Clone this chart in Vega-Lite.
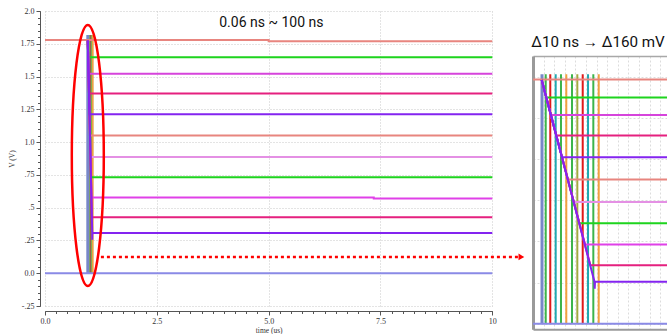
{
  "$schema": "https://vega.github.io/schema/vega-lite/v6.json",
  "background": "white",
  "padding": {"left": 8, "top": 7, "right": 0, "bottom": 0},
  "bounds": "flush",
  "spacing": 40,
  "resolve": {"scale": {"x": "independent", "y": "independent"}},
  "config": {
    "view": {"stroke": null},
    "axis": {
      "labelFont": "Liberation Serif",
      "titleFont": "Liberation Serif",
      "labelFontSize": 8,
      "titleFontSize": 7.5,
      "labelColor": "#333",
      "titleColor": "#333",
      "titleFontWeight": "normal",
      "domainColor": "#555",
      "tickColor": "#555",
      "gridColor": "#c8c8c8",
      "gridDash": [1, 2]
    }
  },
  "datasets": {
    "lines": [
      {"k": "top", "i": 0, "t": 0, "v": 1.778},
      {"k": "top", "i": 1, "t": 5.0, "v": 1.778},
      {"k": "top", "i": 2, "t": 5.0, "v": 1.770},
      {"k": "top", "i": 3, "t": 10, "v": 1.770},
      {"k": "base", "i": 0, "t": 0, "v": 0},
      {"k": "base", "i": 1, "t": 10, "v": 0},
      {"k": "h1", "i": 0, "t": 0.9564, "v": 1.775},
      {"k": "h1", "i": 1, "t": 0.9651, "v": 1.648},
      {"k": "h1", "i": 2, "t": 10, "v": 1.648},
      {"k": "h2", "i": 0, "t": 0.9564, "v": 1.775},
      {"k": "h2", "i": 1, "t": 0.9737, "v": 1.521},
      {"k": "h2", "i": 2, "t": 10, "v": 1.521},
      {"k": "h3", "i": 0, "t": 0.9564, "v": 1.775},
      {"k": "h3", "i": 1, "t": 0.9839, "v": 1.371},
      {"k": "h3", "i": 2, "t": 10, "v": 1.371},
      {"k": "h5", "i": 0, "t": 0.9564, "v": 1.775},
      {"k": "h5", "i": 1, "t": 1.0058, "v": 1.050},
      {"k": "h5", "i": 2, "t": 10, "v": 1.050},
      {"k": "h6", "i": 0, "t": 0.9564, "v": 1.775},
      {"k": "h6", "i": 1, "t": 1.0169, "v": 0.887},
      {"k": "h6", "i": 2, "t": 10, "v": 0.887},
      {"k": "h7", "i": 0, "t": 0.9564, "v": 1.775},
      {"k": "h7", "i": 1, "t": 1.0275, "v": 0.732},
      {"k": "h7", "i": 2, "t": 10, "v": 0.732},
      {"k": "h8", "i": 0, "t": 0.9564, "v": 1.775},
      {"k": "h8", "i": 1, "t": 1.0382, "v": 0.577},
      {"k": "h8", "i": 2, "t": 7.35, "v": 0.577},
      {"k": "h8", "i": 3, "t": 7.35, "v": 0.569},
      {"k": "h8", "i": 4, "t": 10, "v": 0.569},
      {"k": "h9", "i": 0, "t": 0.9564, "v": 1.775},
      {"k": "h9", "i": 1, "t": 1.0483, "v": 0.426},
      {"k": "h9", "i": 2, "t": 10, "v": 0.426},
      {"k": "h4", "i": 0, "t": 0.9564, "v": 1.775},
      {"k": "h4", "i": 1, "t": 0.9947, "v": 1.213},
      {"k": "h4", "i": 2, "t": 10, "v": 1.213},
      {"k": "h10", "i": 0, "t": 0.9564, "v": 1.775},
      {"k": "h10", "i": 1, "t": 1.0560, "v": 0.307},
      {"k": "h10", "i": 2, "t": 1.0564, "v": 0.255},
      {"k": "h10", "i": 3, "t": 1.0570, "v": 0.307},
      {"k": "h10", "i": 4, "t": 10, "v": 0.307}
    ],
    "pulses": [
      {"k": "p1", "t": 0.9640, "v0": 0, "v1": 1.817},
      {"k": "p2", "t": 0.9726, "v0": 0, "v1": 1.817},
      {"k": "p3", "t": 0.9828, "v0": 0, "v1": 1.817},
      {"k": "p4", "t": 0.9928, "v0": 0, "v1": 1.817},
      {"k": "p5", "t": 1.0028, "v0": 0, "v1": 1.817},
      {"k": "p6", "t": 1.0136, "v0": 0, "v1": 1.817},
      {"k": "p7", "t": 1.0236, "v0": 0, "v1": 1.817},
      {"k": "p8", "t": 1.0338, "v0": 0, "v1": 1.817},
      {"k": "p9", "t": 1.0438, "v0": 0, "v1": 1.817},
      {"k": "p10", "t": 1.0538, "v0": 0, "v1": 1.817},
      {"k": "p11", "t": 1.0640, "v0": 0, "v1": 1.817}
    ],
    "clock": [
      {"k": "p0", "t": 0.957, "v0": 0, "v1": 1.817}
    ]
  },
  "hconcat": [
    {
      "width": 447.3,
      "height": 295,
      "resolve": {"axis": {"x": "independent", "y": "independent"}},
      "layer": [
        {
          "data": {"name": "pulses"},
          "mark": {"type": "rule", "strokeWidth": 2},
          "encoding": {
            "x": {"field": "t", "type": "quantitative", "scale": {"domain": [0, 10], "nice": false, "zero": false},
              "axis": {"orient": "bottom", "offset": 5, "values": [0, 2.5, 5, 7.5, 10], "labelExpr": "datum.value == 10 ? '10' : format(datum.value, '.1f')", "labelFlush": false, "tickSize": 4, "labelPadding": 2, "title": "time (us)", "titlePadding": 1, "grid": true}},
            "y": {"field": "v0", "type": "quantitative", "scale": {"domain": [-0.25, 2], "nice": false, "zero": false},
              "axis": {"orient": "left", "offset": 5, "values": [-0.25, 0, 0.25, 0.5, 0.75, 1, 1.25, 1.5, 1.75, 2], "labelExpr": "datum.value == -0.25 ? '-.25' : datum.value == 0.25 ? '.25' : datum.value == 0.5 ? '.5' : datum.value == 0.75 ? '.75' : datum.value == 0 ? '0.0' : datum.value == 1 ? '1.0' : datum.value == 2 ? '2.0' : datum.value == 1.25 ? '1.25' : datum.value == 1.75 ? '1.75' : '1.5'", "tickSize": 4, "labelPadding": 2, "title": "V (V)", "titlePadding": 4, "grid": true}},
            "y2": {"field": "v1"},
            "color": {"field": "k", "type": "nominal", "legend": null,
              "scale": {"domain": ["top", "h1", "h2", "h3", "h4", "h5", "h6", "h7", "h8", "h9", "h10", "base", "p0", "p1", "p2", "p3", "p4", "p5", "p6", "p7", "p8", "p9", "p10", "p11"],
                "range": ["#e8857f", "#1ed41e", "#d644dc", "#e5207f", "#8424f0", "#e8857f", "#e490e4", "#1ed41e", "#e040e8", "#e5207f", "#8424f0", "#8a8ae6", "#7887c9", "#3cb44b", "#e01a1a", "#20a8b0", "#3cb44b", "#f0a040", "#3cb44b", "#a0aa40", "#e01a1a", "#20a8b0", "#3cb44b", "#f0a040"]}}
          }
        },
        {
          "data": {"name": "clock"},
          "mark": {"type": "rule", "strokeWidth": 3},
          "encoding": {
            "x": {"field": "t", "type": "quantitative", "scale": {"domain": [0, 10], "nice": false, "zero": false},
              "axis": {"orient": "bottom", "offset": 5, "values": [0, 0.25, 0.5, 0.75, 1, 1.25, 1.5, 1.75, 2, 2.25, 2.5, 2.75, 3, 3.25, 3.5, 3.75, 4, 4.25, 4.5, 4.75, 5, 5.25, 5.5, 5.75, 6, 6.25, 6.5, 6.75, 7, 7.25, 7.5, 7.75, 8, 8.25, 8.5, 8.75, 9, 9.25, 9.5, 9.75, 10], "labels": false, "tickSize": 2.5, "domain": false, "grid": false, "title": null}},
            "y": {"field": "v0", "type": "quantitative", "scale": {"domain": [-0.25, 2], "nice": false, "zero": false},
              "axis": {"orient": "left", "offset": 5, "values": [-0.25, -0.2, -0.15, -0.1, -0.05, 0, 0.05, 0.1, 0.15, 0.2, 0.25, 0.3, 0.35, 0.4, 0.45, 0.5, 0.55, 0.6, 0.65, 0.7, 0.75, 0.8, 0.85, 0.9, 0.95, 1, 1.05, 1.1, 1.15, 1.2, 1.25, 1.3, 1.35, 1.4, 1.45, 1.5, 1.55, 1.6, 1.65, 1.7, 1.75, 1.8, 1.85, 1.9, 1.95, 2], "labels": false, "tickSize": 2.5, "domain": false, "grid": false, "title": null}},
            "y2": {"field": "v1"},
            "color": {"field": "k", "type": "nominal", "legend": null}
          }
        },
        {
          "data": {"name": "lines"},
          "mark": {"type": "line", "strokeWidth": 2},
          "encoding": {
            "x": {"field": "t", "type": "quantitative", "scale": {"domain": [0, 10], "nice": false, "zero": false}, "axis": null},
            "y": {"field": "v", "type": "quantitative", "scale": {"domain": [-0.25, 2], "nice": false, "zero": false}, "axis": null},
            "color": {"field": "k", "type": "nominal", "legend": null},
            "order": {"field": "i", "type": "quantitative"}
          }
        },
        {
          "data": {"values": [{"t": 0.957, "v": 0.898}]},
          "mark": {"type": "point", "shape": "M0,-1A0.1226,1,0,1,1,0,1A0.1226,1,0,1,1,0,-1Z", "size": 68121, "filled": false, "stroke": "#ff0000", "strokeWidth": 2.5, "opacity": 1},
          "encoding": {
            "x": {"field": "t", "type": "quantitative", "scale": {"domain": [0, 10], "nice": false, "zero": false}, "axis": null},
            "y": {"field": "v", "type": "quantitative", "scale": {"domain": [-0.25, 2], "nice": false, "zero": false}, "axis": null}
          }
        },
        {
          "data": {"values": [{"t0": 1.25, "t1": 10.59, "v": 0.124}]},
          "mark": {"type": "rule", "stroke": "#ff0000", "strokeWidth": 2.5, "strokeDash": [3, 3]},
          "encoding": {
            "x": {"field": "t0", "type": "quantitative", "scale": {"domain": [0, 10], "nice": false, "zero": false}, "axis": null},
            "x2": {"field": "t1"},
            "y": {"field": "v", "type": "quantitative", "scale": {"domain": [-0.25, 2], "nice": false, "zero": false}, "axis": null}
          }
        },
        {
          "data": {"values": [{"t": 10.65, "v": 0.124}]},
          "mark": {"type": "point", "shape": "triangle-right", "size": 45, "filled": true, "color": "#ff0000", "opacity": 1},
          "encoding": {
            "x": {"field": "t", "type": "quantitative", "scale": {"domain": [0, 10], "nice": false, "zero": false}, "axis": null},
            "y": {"field": "v", "type": "quantitative", "scale": {"domain": [-0.25, 2], "nice": false, "zero": false}, "axis": null}
          }
        },
        {
          "data": {"values": [{"t": 5.06, "v": 1.907, "label": "0.06 ns ~ 100 ns"}]},
          "mark": {"type": "text", "font": "Roboto", "fontSize": 14, "color": "#111", "baseline": "middle", "align": "center"},
          "encoding": {
            "x": {"field": "t", "type": "quantitative", "scale": {"domain": [0, 10], "nice": false, "zero": false}, "axis": null},
            "y": {"field": "v", "type": "quantitative", "scale": {"domain": [-0.25, 2], "nice": false, "zero": false}, "axis": null},
            "text": {"field": "label"}
          }
        }
      ]
    },
    {
      "vconcat": [
        {
          "width": 134,
          "height": 44.7,
          "data": {"values": [{"label": "Δ10 ns → Δ160 mV"}]},
          "mark": {"type": "text", "font": "Roboto", "fontSize": 15.2, "color": "#111", "baseline": "alphabetic", "align": "center", "dy": 13.6, "dx": -2},
          "encoding": {"text": {"field": "label"}}
        },
        {
          "width": 134,
          "height": 273.3,
          "resolve": {"axis": {"x": "independent"}},
          "layer": [
            {
              "data": {"name": "pulses"},
              "mark": {"type": "rule", "strokeWidth": 2, "clip": true},
              "encoding": {
                "x": {"field": "t", "type": "quantitative", "scale": {"domain": [0.94, 1.1928], "nice": false, "zero": false},
                  "axis": {"orient": "bottom", "values": [0.94, 0.96, 0.98, 1.0, 1.02, 1.04, 1.06, 1.08, 1.1, 1.12, 1.14, 1.16, 1.18], "labels": false, "ticks": false, "domain": true, "domainColor": "#9a9a9a", "domainWidth": 2, "grid": true, "gridColor": "#dcdcdc", "gridDash": [2, 2], "title": null}},
                "y": {"field": "v0", "type": "quantitative", "scale": {"domain": [-0.04, 1.95], "nice": false, "zero": false},
                  "axis": {"orient": "left", "values": [0, 0.075, 0.15, 0.225, 0.3, 0.375, 0.45, 0.525, 0.6, 0.675, 0.75, 0.825, 0.9, 0.975, 1.05, 1.125, 1.2, 1.275, 1.35, 1.425, 1.5, 1.575, 1.65, 1.725, 1.8, 1.875], "labels": false, "ticks": false, "domain": true, "domainColor": "#9a9a9a", "domainWidth": 3, "grid": true, "gridColor": "#dcdcdc", "gridDash": [2, 2], "title": null}},
                "y2": {"field": "v1"},
                "color": {"field": "k", "type": "nominal", "legend": null,
                  "scale": {"domain": ["top", "h1", "h2", "h3", "h4", "h5", "h6", "h7", "h8", "h9", "h10", "base", "p0", "p1", "p2", "p3", "p4", "p5", "p6", "p7", "p8", "p9", "p10", "p11"],
                    "range": ["#e8857f", "#1ed41e", "#d644dc", "#e5207f", "#8424f0", "#e8857f", "#e490e4", "#1ed41e", "#e040e8", "#e5207f", "#8424f0", "#8a8ae6", "#7887c9", "#3cb44b", "#e01a1a", "#20a8b0", "#3cb44b", "#f0a040", "#3cb44b", "#a0aa40", "#e01a1a", "#20a8b0", "#3cb44b", "#f0a040"]}}
              }
            },
            {
              "data": {"name": "clock"},
              "mark": {"type": "rule", "strokeWidth": 3, "clip": true},
              "encoding": {
                "x": {"field": "t", "type": "quantitative", "scale": {"domain": [0.94, 1.1928], "nice": false, "zero": false},
                  "axis": {"orient": "top", "labels": false, "ticks": false, "domain": true, "domainColor": "#a8a8a8", "domainWidth": 1.5, "grid": false, "title": null}},
                "y": {"field": "v0", "type": "quantitative", "scale": {"domain": [-0.04, 1.95], "nice": false, "zero": false}},
                "y2": {"field": "v1"},
                "color": {"field": "k", "type": "nominal", "legend": null}
              }
            },
            {
              "data": {"name": "lines"},
              "mark": {"type": "line", "strokeWidth": 2, "clip": true},
              "encoding": {
                "x": {"field": "t", "type": "quantitative", "scale": {"domain": [0.94, 1.1928], "nice": false, "zero": false}, "axis": null},
                "y": {"field": "v", "type": "quantitative", "scale": {"domain": [-0.04, 1.95], "nice": false, "zero": false}},
                "color": {"field": "k", "type": "nominal", "legend": null},
                "order": {"field": "i", "type": "quantitative"}
              }
            }
          ]
        }
      ],
      "spacing": 0,
      "bounds": "flush",
      "resolve": {"scale": {"x": "independent", "y": "independent"}}
    }
  ]
}
